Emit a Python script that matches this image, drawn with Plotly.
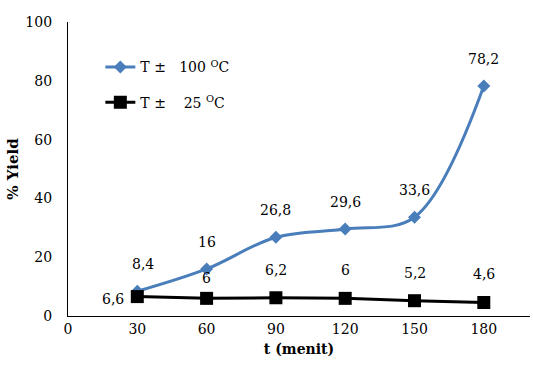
import plotly.graph_objects as go

t_minutes = [30, 60, 90, 120, 150, 180]
yield_100 = [8.4, 16, 26.8, 29.6, 33.6, 78.2]
yield_25 = [6.6, 6, 6.2, 6, 5.2, 4.6]
x_ticks = [0, 30, 60, 90, 120, 150, 180]
y_ticks = [0, 20, 40, 60, 80, 100]

FONT = "DejaVu Serif"
BLUE = "#4a7ebb"
FS = 14

def fmt(v):
    s = ("%g" % v)
    return s.replace(".", ",")

fig = go.Figure()
fig.add_trace(go.Scatter(
    x=t_minutes, y=yield_100, mode="lines+markers",
    line=dict(color=BLUE, width=3, shape="spline", smoothing=1.0),
    marker=dict(symbol="diamond", size=10, color=BLUE),
    name="T ±   100 <sup>O</sup>C", legend="legend",
))
fig.add_trace(go.Scatter(
    x=t_minutes, y=yield_25, mode="lines+markers",
    line=dict(color="black", width=3),
    marker=dict(symbol="square", size=13, color="black"),
    name="T ±    25 <sup>O</sup>C", legend="legend2",
))

for x, y in zip(t_minutes, yield_100):
    fig.add_annotation(x=x, y=y, text=fmt(y), showarrow=False,
                       yshift=27, xshift=(6 if x == 30 else 0),
                       font=dict(family=FONT, size=FS, color="black"))
for i, (x, y) in enumerate(zip(t_minutes, yield_25)):
    if i == 0:
        fig.add_annotation(x=x, y=y, text=fmt(y), showarrow=False,
                           xshift=-24, yshift=-2,
                           font=dict(family=FONT, size=FS, color="black"))
    else:
        fig.add_annotation(x=x, y=y, text=fmt(y), showarrow=False,
                           yshift=(20 if i == 1 else 28),
                           font=dict(family=FONT, size=FS, color="black"))

fig.update_layout(
    width=533, height=367,
    margin=dict(l=68, r=3, t=22, b=51),
    paper_bgcolor="white", plot_bgcolor="white",
    font=dict(family=FONT, size=FS, color="black"),
    showlegend=True,
    legend=dict(x=0.07, y=0.90, xanchor="left", yanchor="top",
                bgcolor="rgba(0,0,0,0)", font=dict(family=FONT, size=FS)),
    legend2=dict(x=0.07, y=0.78, xanchor="left", yanchor="top",
                 bgcolor="rgba(0,0,0,0)", font=dict(family=FONT, size=FS)),
    xaxis=dict(range=[0, 200], tickvals=x_ticks, ticktext=[str(v) for v in x_ticks],
               showline=True, linecolor="black", linewidth=1.3, showgrid=False,
               zeroline=False, ticks="", tickfont=dict(family=FONT, size=FS),
               title=dict(text="<b>t (menit)</b>", font=dict(family=FONT, size=FS), standoff=8)),
    yaxis=dict(range=[0, 100], tickvals=y_ticks, ticktext=[str(v) for v in y_ticks],
               showline=True, linecolor="black", linewidth=1.3, showgrid=False,
               zeroline=False, ticks="", tickfont=dict(family=FONT, size=FS),
               ticklabelstandoff=12,
               title=dict(text="<b>% Yield</b>", font=dict(family=FONT, size=15), standoff=3)),
)

fig.write_html("out.html")
